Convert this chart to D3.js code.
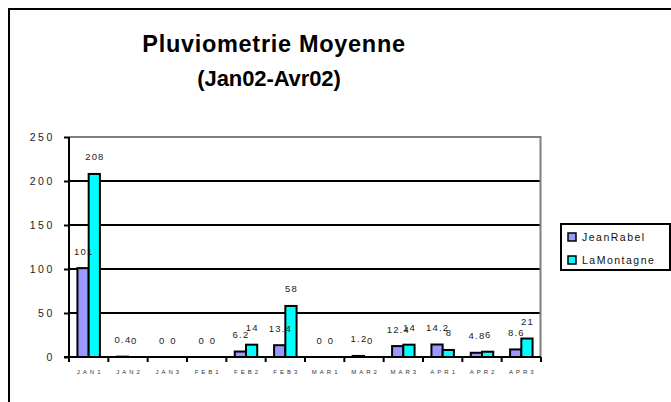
<!DOCTYPE html>
<html><head><meta charset="utf-8">
<script src="https://cdn.jsdelivr.net/npm/d3@7"></script>
<style>body{margin:0;background:#fff}svg{display:block;font-family:"Liberation Sans",Arial,sans-serif}</style>
</head><body><svg id="c" width="671" height="402"></svg>
<script>
const categories = ["JAN1","JAN2","JAN3","FEB1","FEB2","FEB3","MAR1","MAR2","MAR3","APR1","APR2","APR3"];
const seriesNames = ["JeanRabel","LaMontagne"];
const jeanRabel = [101,0.4,0,0,6.2,13.4,0,1.2,12.4,14.2,4.8,8.6];
const laMontagne = [208,0,0,0,14,58,0,0,14,8,6,21];
const yTicks = [0,50,100,150,200,250];
const titleLines = ["Pluviometrie Moyenne","(Jan02-Avr02)"];
const colors = ["#9999FF","#00FFFF"];

(function(){
const svg = d3.select("#c");
// outer chart border
svg.append("path").attr("d","M9,402 V9 H671").attr("fill","none").attr("stroke","#000").attr("stroke-width",2);

// title
svg.append("text").attr("x",274).attr("y",52).attr("text-anchor","middle")
  .attr("font-size",23.5).attr("font-weight","bold").attr("letter-spacing",0.7).text(titleLines[0]);
svg.append("text").attr("x",269).attr("y",85.5).attr("text-anchor","middle")
  .attr("font-size",22).attr("font-weight","bold").attr("letter-spacing",-0.1).text(titleLines[1]);

const pL=69, pR=541, pT=137, pB=357;
const x0 = d3.scaleBand().domain(categories).range([pL,pR]).padding(0);
const x1 = d3.scaleBand().domain(seriesNames).range([0,x0.bandwidth()]).paddingInner(0).paddingOuter(0.75);
const y = d3.scaleLinear().domain([0,250]).range([pB,pT]);

// gridlines
svg.append("g").selectAll("line").data(yTicks.filter(t=>t>0 && t<250)).join("line")
  .attr("x1",pL).attr("x2",pR-1).attr("y1",d=>y(d)).attr("y2",d=>y(d))
  .attr("stroke","#000").attr("stroke-width",2);
// plot border (gray top & right)
svg.append("path").attr("d",`M${pL},${y(250)} H${pR-0.5} V${pB}`).attr("fill","none")
  .attr("stroke","#808080").attr("stroke-width",2);

// bars
const data = categories.map((c,i)=>({c, vals:[jeanRabel[i],laMontagne[i]]}));
const g = svg.append("g").selectAll("g").data(data).join("g").attr("transform",d=>`translate(${x0(d.c)},0)`);
g.selectAll("rect").data(d=>d.vals.map((v,k)=>({v,k}))).join("rect")
  .attr("x",d=>x1(seriesNames[d.k])).attr("width",x1.bandwidth())
  .attr("y",d=>y(d.v)).attr("height",d=>y(0)-y(d.v))
  .attr("fill",d=>colors[d.k]).attr("stroke","#000").attr("stroke-width",2);
g.selectAll("text").data(d=>d.vals.map((v,k)=>({v,k}))).join("text")
  .attr("x",d=>x1(seriesNames[d.k])+x1.bandwidth()/2+0.6).attr("y",d=>y(d.v)-13.5)
  .attr("text-anchor","middle").attr("font-size",9.5).attr("letter-spacing",1.2).attr("fill","#222")
  .text(d=>String(d.v));

// y axis
const ya = svg.append("g").attr("transform",`translate(${pL},0)`)
  .call(d3.axisLeft(y).tickValues(yTicks).tickSize(5).tickPadding(9).tickFormat(d3.format("d")));
ya.select(".domain").attr("d",`M0,${pT} V${pB}`).attr("stroke","#000").attr("stroke-width",2);
ya.selectAll(".tick line").attr("stroke","#000").attr("stroke-width",2);
ya.selectAll(".tick text").attr("font-size",10.5).attr("letter-spacing",2.6).attr("fill","#222").attr("font-family","Liberation Sans, Arial, sans-serif");

// x axis
svg.append("line").attr("x1",pL-5).attr("x2",pR).attr("y1",pB).attr("y2",pB).attr("stroke","#000").attr("stroke-width",2);
const edges = categories.map(c=>x0(c)).concat([x0.range()[1]]);
svg.append("g").selectAll("line").data(edges).join("line")
  .attr("x1",d=>d).attr("x2",d=>d).attr("y1",pB).attr("y2",pB+5).attr("stroke","#000").attr("stroke-width",2);
svg.append("g").selectAll("text").data(categories).join("text")
  .attr("x",d=>x0(d)+x0.bandwidth()/2+1.5).attr("y",374).attr("text-anchor","middle")
  .attr("font-size",6).attr("letter-spacing",3).attr("fill","#333").text(d=>d);

// legend
const lg = svg.append("g");
lg.append("rect").attr("x",561).attr("y",224).attr("width",109).attr("height",46).attr("fill","#fff").attr("stroke","#000").attr("stroke-width",2);
seriesNames.forEach((s,i)=>{
  lg.append("rect").attr("x",568).attr("y",233+i*23).attr("width",8).attr("height",8)
    .attr("fill",colors[i]).attr("stroke","#000").attr("stroke-width",1.5);
  lg.append("text").attr("x",582).attr("y",241+i*23).attr("font-size",10.5).attr("letter-spacing",1.5).attr("fill","#111").text(s);
});
})();
</script></body></html>
